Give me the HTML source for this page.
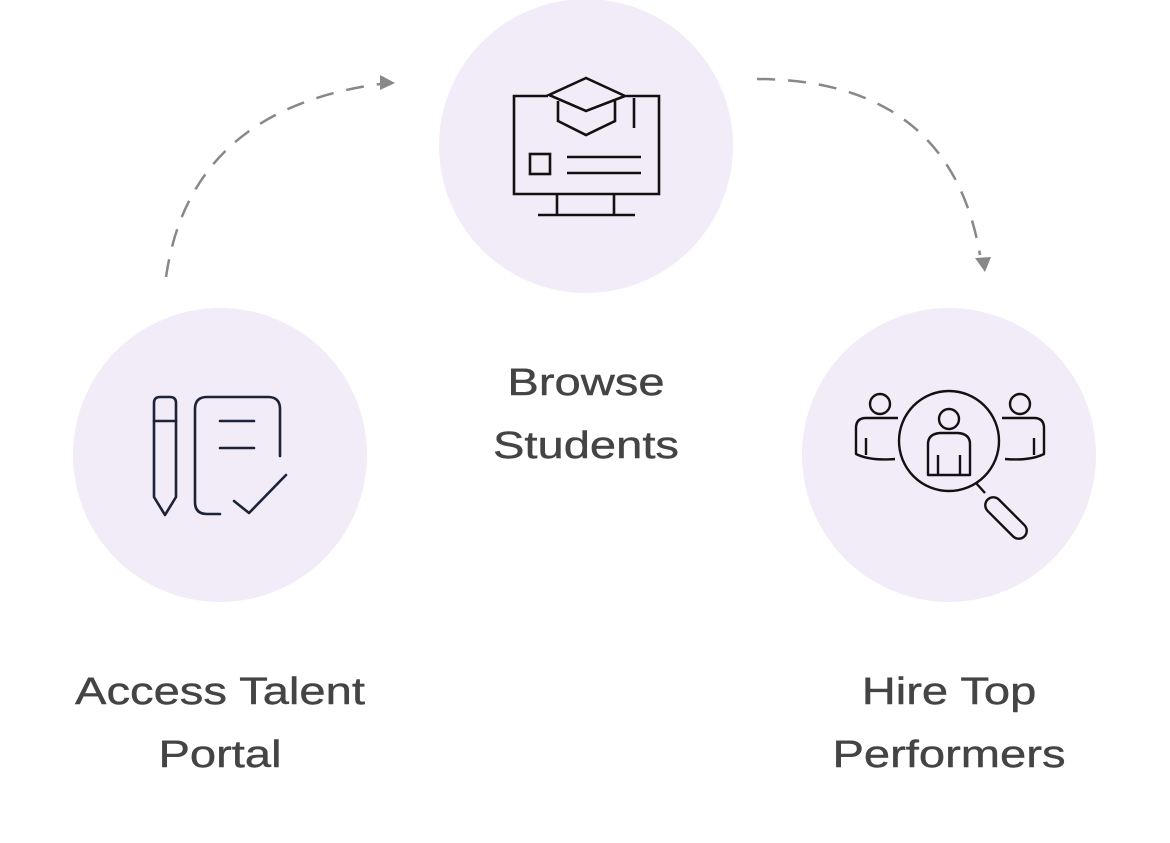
<!DOCTYPE html>
<html><head><meta charset="utf-8"><style>
html,body{margin:0;padding:0;background:#fff;}
body{width:1170px;height:843px;position:relative;overflow:hidden;font-family:"Liberation Sans",sans-serif;}
.t{position:absolute;text-align:center;color:#444;font-size:38px;line-height:63px;width:400px;transform:scaleX(1.24);transform-origin:center;-webkit-text-stroke:0.4px #444;}
</style></head><body>
<svg width="1170" height="843" style="position:absolute;left:0;top:0">
<circle cx="220" cy="455" r="147" fill="#f2ebf8"/>
<circle cx="586" cy="146" r="147" fill="#f2ebf8"/>
<circle cx="949" cy="455" r="147" fill="#f2ebf8"/>
<g fill="none" stroke="#888" stroke-width="2.5" stroke-dasharray="18 13">
<path d="M166 277 Q190 110 380 84"/>
<path d="M757 79 Q950 80 980 255"/>
</g>
<polygon points="380,75 395,83 380,90" fill="#888"/>
<polygon points="975,258 991,257 985,272" fill="#888"/>
<g fill="none" stroke="#1c2238" stroke-width="2.6" stroke-linecap="round" stroke-linejoin="round">
<path d="M154 497 V403 Q154 397 160 397 H170 Q176 397 176 403 V497 L165 515 Z"/>
<line x1="154" y1="421" x2="176" y2="421"/>
<path d="M220 514 H207 Q195 514 195 502 V409 Q195 397 207 397 H268 Q280 397 280 409 V456"/>
<line x1="220" y1="421" x2="254" y2="421"/>
<line x1="220" y1="448" x2="254" y2="448"/>
<path d="M234 501 L249 513 L286 475"/>
</g>
<g fill="none" stroke="#111" stroke-width="2.6">
<path d="M548 96 H514 V194 H659 V96 H626"/>
<line x1="557" y1="194" x2="557" y2="215"/>
<line x1="614" y1="194" x2="614" y2="215"/>
<line x1="538" y1="215" x2="635" y2="215"/>
<polygon points="586,78 549,95 586,111 625,96"/>
<path d="M558 101 V121 L586 135 L615 121 V101"/>
<line x1="634" y1="98" x2="634" y2="128"/>
<rect x="530" y="154" width="20" height="20"/>
<line x1="567" y1="157" x2="641" y2="157"/>
<line x1="567" y1="173" x2="641" y2="173"/>
</g>
<g fill="none" stroke="#111" stroke-width="2.4" stroke-linejoin="round">
<circle cx="949" cy="441" r="50"/>
<path d="M976 483 L985 493"/>
<rect x="998" y="492" width="16" height="52" rx="8" transform="rotate(-45 1006 518)"/>
<circle cx="949" cy="419" r="10"/>
<path d="M928 475 V444 Q928 434 940 433 H958 Q970 434 970 444 V475 Z"/>
<path d="M938 475 V455 M960 475 V455"/>
<circle cx="880" cy="404" r="10"/>
<path d="M898 418 H866 Q856 418 856 428 V454 Q870 461 895 459"/>
<path d="M866 455 V438"/>
<circle cx="1020" cy="404" r="10"/>
<path d="M1002 418 H1034 Q1044 418 1044 428 V454 Q1030 461 1005 459"/>
<path d="M1034 455 V438"/>
</g>
</svg>
<div class="t" style="left:386px;top:352px">Browse<br>Students</div>
<div class="t" style="left:20px;top:661px">Access Talent<br>Portal</div>
<div class="t" style="left:749px;top:661px">Hire Top<br>Performers</div>
</body></html>
